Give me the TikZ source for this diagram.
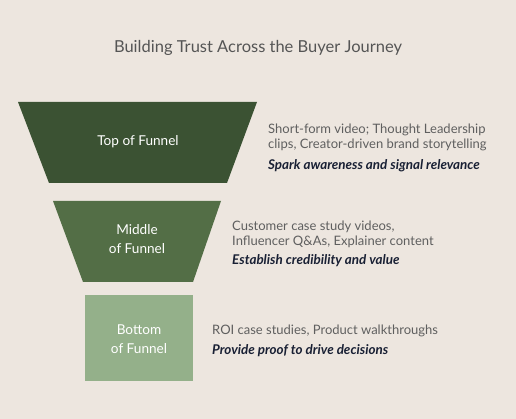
\documentclass[tikz,border=0pt]{standalone}
\usepackage{fontspec}
\setmainfont{Lato}
\definecolor{bg}{RGB}{237,230,223}
\definecolor{topc}{RGB}{59,82,51}
\definecolor{midc}{RGB}{83,110,70}
\definecolor{botc}{RGB}{148,176,138}
\definecolor{titlec}{RGB}{85,85,85}
\definecolor{descc}{RGB}{95,95,95}
\definecolor{navy}{RGB}{25,32,52}
\begin{document}
\begin{tikzpicture}[x=1pt,y=-1pt,
  lbl/.style={text=white,font=\fontsize{13.6}{18.5}\selectfont,align=center},
  desc/.style={text=descc,font=\fontsize{13}{15}\selectfont,align=left,anchor=west,inner sep=0pt},
  goal/.style={text=navy,font=\fontsize{13.4}{15}\selectfont\bfseries\itshape,anchor=west,inner sep=0pt}]
\fill[bg] (0,0) rectangle (516,419);
\useasboundingbox (0,0) rectangle (516,419);
\node[text=titlec,font=\fontsize{16.5}{20}\selectfont] (title) at (258,48) {Building Trust Across the Buyer Journey};
\fill[topc] (18,102) -- (257,102) -- (227,183) -- (49,183) -- cycle;
\fill[midc] (53,201) -- (221,201) -- (193,282) -- (83,282) -- cycle;
\fill[botc] (85,295) rectangle (193,381);
\node[lbl] (t) at (138,142) {Top of Funnel};
\node[lbl] (m) at (137,239) {Middle\\of Funnel};
\node[lbl] (b) at (139,339) {Bottom\\of Funnel};
\node[desc] (td) at (268,137) {Short-form video; Thought Leadership\\clips, Creator-driven brand storytelling};
\node[goal] (tg) at (268,166) {Spark awareness and signal relevance};
\node[desc] (md) at (232,234.5) {Customer case study videos,\\Influencer Q\&As, Explainer content};
\node[goal] (mg) at (232,261) {Establish credibility and value};
\node[desc] (bd) at (212,331) {ROI case studies, Product walkthroughs};
\node[goal] (bg) at (212,351) {Provide proof to drive decisions};
\end{tikzpicture}
\end{document}
